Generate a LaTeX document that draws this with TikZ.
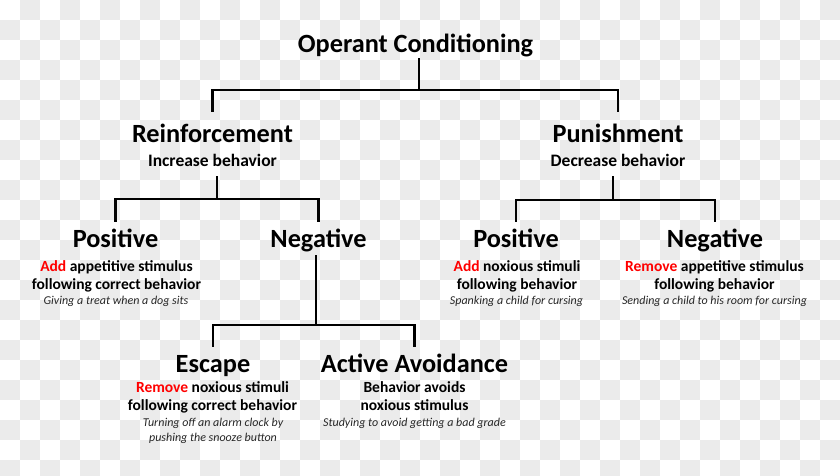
\documentclass[tikz,border=0pt]{standalone}
\usepackage{fontspec}
\setmainfont{Carlito}
\usepackage{tikz}
\usetikzlibrary{positioning}
\usetikzlibrary{calc}
\definecolor{checker}{RGB}{235,235,235}
\def\act#1{\textcolor{red}{#1}}

\begin{document}
\begin{tikzpicture}[x=1pt,y=-1pt,
		title/.style={font=\fontsize{26.3}{31}\selectfont\bfseries, inner sep=0pt, anchor=base, text depth=6pt},
		head/.style={font=\fontsize{26.3}{31}\selectfont\bfseries, inner sep=0pt, anchor=base, text height=25pt, text depth=8pt},
		sub/.style={font=\fontsize{17.5}{20}\selectfont\bfseries, inner sep=0pt, anchor=base, text depth=10pt},
		desc/.style={font=\fontsize{15.5}{18}\selectfont\bfseries, inner sep=0pt, anchor=base, align=center},
		eg/.style={font=\fontsize{12}{15}\selectfont\itshape, text=black!85, inner sep=0pt, anchor=base, align=center},
		tree/.style={line width=2.6pt}]
		\useasboundingbox (0,0) rectangle (840,475);
		\clip (0,0) rectangle (840,475);
		\fill[white] (0,0) rectangle (840,475);
		\foreach \j in {0,...,23}
			\foreach \i in {0,...,41} {
				\pgfmathtruncatemacro\s{mod(\i+\j,2)}
				\ifnum\s=1 \fill[checker] (\i*20,\j*20) rectangle ++(20,20); \fi
			}
		% top
		\node[title] (oc) at (415.5,52) {Operant Conditioning};
		\node[head] (reinf) at (212.5,142) {Reinforcement};
		\node[sub] (reinfs) at (212.5,166) {Increase behavior};
		\node[head] (pun) at (618,142) {Punishment};
		\node[sub] (puns) at (618,166) {Decrease behavior};
		% reinforcement branch
		\node[head] (posL) at (115.5,247) {Positive};
		\node[desc] (posLd) at (116.5,289) {\act{Add} appetitive stimulus\\following correct behavior};
		\node[eg] (posLe) at (116,304) {Giving a treat when a dog sits};
		\node[head] (negL) at (318.5,247) {Negative};
		\node[head] (esc) at (213,372) {Escape};
		\node[desc] (escd) at (212.5,410) {\act{Remove} noxious stimuli\\following correct behavior};
		\node[eg] (esce) at (213,441) {Turning off an alarm clock by\\pushing the snooze button};
		\node[head] (avo) at (414.5,372) {Active Avoidance};
		\node[desc] (avod) at (414.5,410) {Behavior avoids\\noxious stimulus};
		\node[eg] (avoe) at (414.5,426) {Studying to avoid getting a bad grade};
		% punishment branch
		\node[head] (posR) at (516,247) {Positive};
		\node[desc] (posRd) at (517,289) {\act{Add} noxious stimuli\\following behavior};
		\node[eg] (posRe) at (516.5,304) {Spanking a child for cursing};
		\node[head] (negR) at (715,247) {Negative};
		\node[desc] (negRd) at (714.5,289) {\act{Remove} appetitive stimulus\\following behavior};
		\node[eg] (negRe) at (714.5,304) {Sending a child to his room for cursing};
		% connectors
		\coordinate (j0) at (419,90);
		\coordinate (j1) at (217,199);
		\coordinate (j2) at (613,200);
		\coordinate (j3) at (316,325);
		\draw[tree] (j0 |- oc.south) -- (j0);
		\draw[tree, shorten <=5pt, shorten >=5pt] (reinf.north) |- (j0) -| (pun.north);
		\draw[tree] (j1 |- reinfs.south) -- (j1);
		\draw[tree] (posL.north) |- (j1) -| (negL.north);
		\draw[tree] (j2 |- puns.south) -- (j2);
		\draw[tree] (posR.north) |- (j2) -| (negR.north);
		\draw[tree] (j3 |- negL.south) -- (j3);
		\draw[tree] (esc.north) |- (j3) -| (avo.north);
	\end{tikzpicture}
\end{document}
